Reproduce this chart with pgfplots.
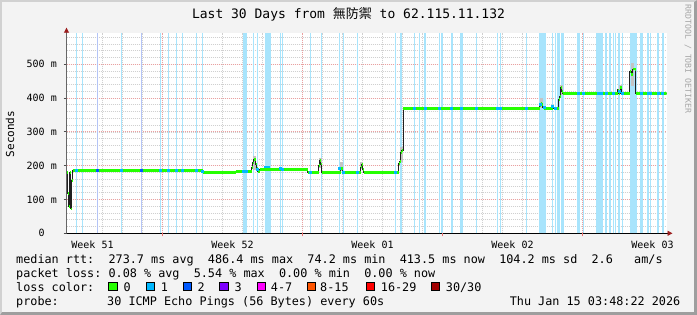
\documentclass[border=0pt]{standalone}
\usepackage{pgfplots}
\pgfplotsset{compat=1.18}
\usepackage{pgfplotstable}
\usepackage{fontspec}
\setmainfont{DejaVu Sans Mono}
\newfontfamily\cjk{Noto Sans CJK TC}
\usetikzlibrary{arrows.meta}
\definecolor{canvas}{HTML}{F3F3F3}
\definecolor{lossA}{HTML}{A8E4FC}
\definecolor{lossB}{HTML}{B4C4F6}
\definecolor{loss0}{HTML}{26FF00}
\definecolor{loss1}{HTML}{00B8FF}
\definecolor{loss2}{HTML}{0059FF}
\definecolor{loss3}{HTML}{7E00FF}
\definecolor{loss4}{HTML}{FF00FE}
\definecolor{loss8}{HTML}{FF5500}
\definecolor{loss16}{HTML}{FF0000}
\definecolor{loss30}{HTML}{A10000}
\definecolor{mgrid}{HTML}{EAA0A0}
\definecolor{mingrid}{HTML}{D0D0D0}
\definecolor{arrowred}{HTML}{9C1E1E}
\definecolor{smoke}{HTML}{C4C4C4}
\definecolor{medline}{HTML}{202020}
\newcommand\legfont{\fontsize{11.8}{13}\selectfont}
\newcommand\tickfont{\fontsize{10}{12}\selectfont}
\newcommand\titlefont{\fontsize{13}{15}\selectfont}

% median rtt (ms), x in pixel-days units
\pgfplotstableread{
x y
66.5 180
67.5 118
68.5 80
69.5 180
70.5 72
71.5 155
72.5 185
202.5 180
235.5 182
251.5 195
252.5 208
253.5 218
255.5 205
256.5 192
257.5 182
259.5 188
307.5 181
318.5 200
319.5 216
320.5 205
321.5 181
340.5 193
342.5 181
360.5 196
361.5 204
362.5 188
363.5 181
398.5 207
399.5 212
400.5 240
401.5 246
403 370
539.5 378
540.5 385
541.5 381
542.5 372
543.5 370
552.5 374
553.5 370
558.5 395
559.5 405
560.5 432
561.5 420
562.5 414
617.5 424
618.5 414
620 432
621.5 414
629.5 480
631 470
632.5 486
634.5 484
635.5 414
666.5 414
}\median

% median points with 1 lost ping
\pgfplotstableread{
x y
76.3 185
121.7 185
160.7 185
168.3 185
176.3 185
182.3 185
196.3 185
202.3 182
243.5 182
246 182
257.7 190
265 196
268.5 196
280.3 192
282.7 190
310.3 181
339.3 193
343.3 181
357.3 181
395.3 181
414.3 370
425 370
439.7 370
451.7 370
461.7 370
476.3 370
497.3 370
500.3 370
526.3 370
540 380
544.5 371
552.3 374
555.7 370
578 414
583.7 414
598 414
601 414
606 414
613.3 414
619 420
622.3 414
641 414
648 414
650.3 414
658 414
662.3 414
}\lossone

% median points with 2 lost pings
\pgfplotstableread{
x y
97.3 185
141.7 185
}\losstwo

% loss background bars (1 lost)
\pgfplotstableread{
x y
76.3 593
82.3 593
121.7 593
160.7 593
168.3 593
176.3 593
182.3 593
196.3 593
202.3 593
243.5 593
244.5 593
245.5 593
246.5 593
253.3 593
257.7 593
266 593
267 593
268 593
269 593
270 593
280.3 593
282.7 593
310.3 593
321.7 593
339.3 593
343.3 593
357.3 593
395.3 593
400.5 593
401.5 593
414.3 593
419.3 593
425 593
439.7 593
442 593
451.5 593
452.5 593
460.5 593
461.5 593
462.5 593
476.3 593
497.3 593
500.3 593
526.3 593
539.5 593
540.5 593
541.5 593
542.5 593
543.5 593
544.5 593
545.5 593
552.3 593
555.7 593
557.5 593
558.5 593
559.5 593
561.5 593
562.5 593
563.5 593
577.5 593
578.5 593
579.5 593
583.7 593
596.5 593
597.5 593
598.5 593
599.5 593
600.5 593
601.5 593
602.5 593
605.5 593
606.5 593
610 593
613.3 593
615.7 593
618.5 593
619.5 593
622.3 593
630.5 593
631.5 593
632.5 593
633.5 593
634.5 593
635.5 593
636.5 593
640.5 593
641.5 593
642.5 593
647.5 593
648.5 593
650.3 593
657.5 593
658.5 593
662.3 593
663.3 593
}\bgone

% loss background bars (2 lost)
\pgfplotstableread{
x y
97.3 593
141.7 593
}\bgtwo

\begin{document}
\begin{tikzpicture}[x=1pt,y=1pt]
\useasboundingbox (0,0) rectangle (697,315);
\fill[black!38] (0,0) rectangle (697,315);
\fill[black!18] (0,315) -- (697,315) -- (694,313) -- (2,313) -- (2,3) -- (0,0) -- cycle;
\fill[canvas] (2,3) rectangle (694,313);

\begin{axis}[
  at={(66.5pt,81.7pt)}, anchor=south west,
  scale only axis, width=600pt, height=200.6pt,
  xmin=66.5, xmax=666.5, ymin=0, ymax=593.5,
  axis lines=left,
  axis background/.style={fill=white},
  x axis line style={black, line width=0.8pt, -{Triangle[length=5pt,width=5pt,color=arrowred]}, shorten >=-6pt},
  y axis line style={black!60, line width=0.8pt, -{Triangle[length=5pt,width=5pt,color=arrowred]}, shorten >=-5pt},
  xtick={92.5,232.5,372.5,512.5,652.5},
  xticklabels={Week 51,Week 52,Week 01,Week 02,Week 03},
  minor xtick={82.3,102.3,...,662.3},
  extra x ticks={162.3,302.3,442.3,582.3},
  extra x tick labels={},
  extra x tick style={xmajorgrids=true, xtick style={draw=mgrid!70!red, line width=0.8pt}},
  ytick={0,100,...,500},
  yticklabels={0\hphantom{~m},100 m,200 m,300 m,400 m,500 m},
  minor ytick={20,40,...,580},
  xmajorgrids=false, xminorgrids=true, ymajorgrids=true, yminorgrids=true,
  minor grid style={mingrid, dash pattern=on 1pt off 1pt, line width=0.75pt},
  major grid style={mgrid, dash pattern=on 1pt off 1pt, line width=0.8pt},
  tick align=outside, major tick length=3pt, minor tick length=0pt,
  xtick style={draw=none},
  ytick style={draw=black!70, line width=0.8pt},
  xticklabel style={font=\tickfont, anchor=base, inner sep=0pt, yshift=-12.4pt},
  yticklabel style={font=\tickfont, anchor=east, inner sep=0pt, xshift=-6.5pt},
]
\addplot[ycomb, draw=lossA, line width=1.2pt, mark=none, forget plot] table {\bgone};
\addplot[ycomb, draw=lossB, line width=1.2pt, mark=none, forget plot] table {\bgtwo};
\addplot[draw=none, mark=none, forget plot,
  error bars/.cd, y dir=both, y explicit, error mark=none,
  error bar style={draw=smoke, line width=3pt}]
  coordinates {
  (254,208) +- (0,20)
  (320,208) +- (0,14)
  (341,198) +- (0,13)
  (361.5,200) +- (0,10)
  (401,232) +- (0,22)
  (541,386) +- (0,14)
  (561,425) +- (0,15)
  (620.5,428) +- (0,12)
  (632,470) +- (0,33)
  };
\addplot[const plot mark left, draw=medline, line width=1pt, mark=none] table {\median};
\addplot[jump mark left, draw=loss0, line width=2.9pt, mark=none] table {\median};
\addplot[only marks, mark=-, mark size=1.5pt, color=loss1, mark options={line width=2.9pt, solid}] table {\lossone};
\addplot[only marks, mark=-, mark size=1.5pt, color=loss2, mark options={line width=2.9pt, solid}] table {\losstwo};
\end{axis}

% title and side texts
\node[anchor=base, inner sep=0pt, font=\titlefont] at (348.5,296) {Last 30 Days from {\cjk 無防禦} to 62.115.11.132};
\node[rotate=90, inner sep=0pt, font=\fontsize{11}{13}\selectfont] at (10,181) {Seconds};
\node[rotate=-90, inner sep=0pt, font=\fontsize{8.2}{10}\selectfont, text=black!35] at (688,256) {RRDTOOL / TOBI OETIKER};

% legend
\node[anchor=base west, inner sep=0pt, font=\legfont] at (16,51.7) {median~rtt:~~273.7~ms~avg~~486.4~ms~max~~74.2~ms~min~~413.5~ms~now~~104.2~ms~sd~~2.6~~~am/s};
\node[anchor=base west, inner sep=0pt, font=\legfont] at (16,37.7) {packet~loss:~0.08~\%~avg~~5.54~\%~max~~0.00~\%~min~~0.00~\%~now};
\node[anchor=base west, inner sep=0pt, font=\legfont] at (16,23.7) {loss~color:};
\foreach \sx/\lx/\col/\lab in {108.3/123.3/loss0/0, 145.7/160.7/loss1/1, 182.7/197.3/loss2/2, 219.3/234.3/loss3/3, 256.7/270.7/loss4/4-7, 306.7/320/loss8/8-15, 365.7/380.7/loss16/16-29, 430.7/445.7/loss30/30\slash 30}{
  \node[draw=black, fill=\col, minimum size=8.6pt, inner sep=0pt, line width=0.8pt, anchor=south west] at (\sx,23.7) {};
  \node[anchor=base west, inner sep=0pt, font=\legfont] at (\lx,23.7) {\lab};
}
\node[anchor=base west, inner sep=0pt, font=\legfont] at (16,9.7) {probe:};
\node[anchor=base west, inner sep=0pt, font=\legfont] at (107,9.7) {30~ICMP~Echo~Pings~(56~Bytes)~every~60s};
\node[anchor=base east, inner sep=0pt, font=\legfont] at (680.5,9.7) {Thu~Jan~15~03:48:22~2026};
\end{tikzpicture}
\end{document}
